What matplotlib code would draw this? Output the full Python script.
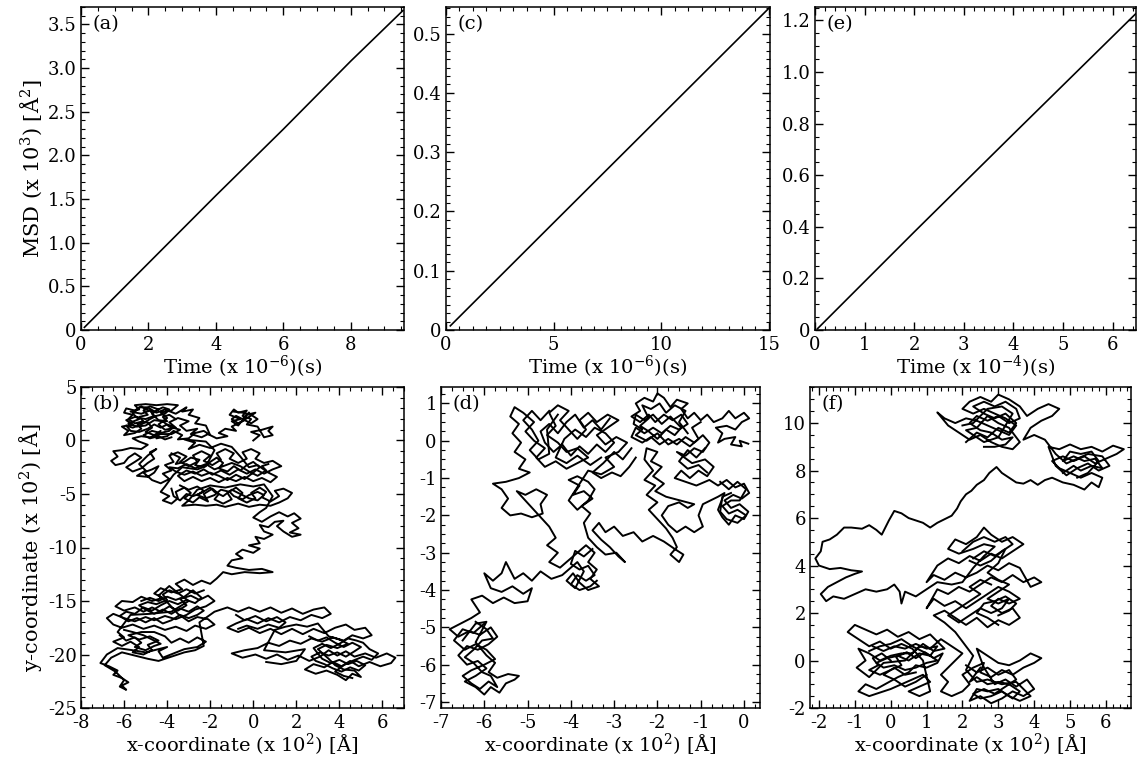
import matplotlib
matplotlib.use('Agg')
import matplotlib.pyplot as plt
from matplotlib.ticker import MultipleLocator, AutoMinorLocator, FuncFormatter

# MSD curves
t_a = [0.1, 4, 6, 8, 9.55]
msd_a = [0.03, 1.54, 2.30, 3.08, 3.66]
t_c = [0.2, 5, 10, 15.0]
msd_c = [0.007, 0.181, 0.362, 0.543]
t_e = [0.05, 2, 4, 6.46]
msd_e = [0.005, 0.38, 0.76, 1.225]

# trajectories, hand-traced waypoints (x, y) in units of 10^2 A
path_b = [
    (0.0, 0.0), (0.3, 0.5), (-0.1, 0.8), (0.4, 1.0), (0.9, 1.3), (0.7, 0.9), (0.9, 0.5), (0.5, 0.3),
    (0.2, 1.3), (-0.3, 1.5), (-0.1, 2.0), (-0.5, 2.3), (-0.3, 2.8), (-0.7, 2.6), (-0.9, 2.9),
    (-1.1, 2.4), (-0.6, 2.0), (-1.0, 1.8), (-0.7, 1.4), (-0.3, 2.4), (0.1, 2.6), (-0.2, 2.2),
    (-0.6, 1.7), (-1.0, 1.3), (-0.8, 0.9), (-1.3, 1.1), (-1.6, 0.7), (-1.2, 0.4), (-1.7, 0.2),
    (-2.1, 0.6),
    (-2.4, 0.3), (-2.9, 0.6), (-2.6, 1.1), (-3.1, 0.9), (-3.4, 1.4), (-3.0, 1.8), (-3.5, 2.1),
    (-3.9, 1.7), (-3.6, 1.2), (-4.1, 1.0), (-4.4, 1.5), (-4.0, 2.1), (-4.3, 2.6), (-3.8, 2.8),
    (-3.5, 3.3), (-4.0, 3.4), (-4.5, 3.3), (-5.0, 3.4), (-5.5, 3.3), (-5.3, 2.9), (-5.7, 2.7),
    (-5.2, 2.5), (-4.8, 2.8), (-4.6, 2.3), (-5.0, 2.0), (-5.5, 2.2), (-5.9, 1.9), (-5.6, 1.5),
    (-6.1, 1.3), (-5.8, 0.9), (-6.0, 0.5), (-5.5, 0.7), (-5.2, 1.1), (-5.4, 1.6), (-4.9, 1.7),
    (-4.7, 1.2), (-5.0, 0.8), (-4.6, 0.5), (-4.3, 0.9), (-4.5, 0.2), (-4.0, 0.4), (-3.7, 0.9),
    (-3.3, 0.5), (-3.5, 0.1), (-3.0, 0.2), (-2.7, 0.7), (-2.3, 0.9), (-2.0, 0.5), (-2.2, 1.4),
    (-2.7, 1.6), (-2.5, 2.1), (-3.0, 2.4), (-2.8, 2.9), (-3.3, 2.7), (-3.1, 3.1), (-3.6, 2.5),
    (-4.1, 2.9), (-4.5, 2.6), (-4.9, 3.1), (-5.3, 3.1), (-5.6, 2.5), (-5.3, 2.0), (-5.8, 1.6),
    (-5.4, 1.3), (-5.0, 1.4), (-4.6, 1.9), (-4.2, 1.8), (-3.9, 1.3), (-3.4, 1.0), (-3.8, 0.6),
    (-4.3, 0.6), (-4.8, 0.3), (-5.2, 0.4), (-5.6, 0.2), (-5.3, -0.1),
    (-4.9, -0.4), (-5.2, -0.8), (-5.7, -0.7), (-6.1, -0.9), (-6.5, -1.0), (-6.3, -1.5), (-6.6, -1.9),
    (-6.4, -2.3), (-6.0, -2.1), (-5.8, -1.6), (-5.5, -1.2), (-5.2, -1.6), (-5.5, -2.0), (-5.9, -2.5),
    (-5.6, -2.9), (-5.2, -2.6), (-4.9, -2.1), (-4.6, -1.7), (-4.8, -1.1), (-4.5, -0.8), (-4.9, -1.4),
    (-5.3, -2.2), (-5.0, -2.8), (-5.4, -3.3), (-4.9, -3.4), (-4.6, -3.0), (-4.4, -2.4), (-4.7, -2.7),
    (-5.1, -3.0), (-4.7, -3.7), (-4.3, -4.0),
    (-3.9, -3.6), (-4.2, -3.1), (-3.8, -2.8), (-4.1, -2.3), (-3.7, -2.0), (-3.9, -1.4), (-3.5, -1.1),
    (-3.1, -1.5), (-3.4, -2.0), (-3.0, -2.4), (-2.6, -2.0), (-2.8, -1.4), (-2.4, -1.0), (-2.0, -1.4),
    (-2.3, -1.9), (-1.9, -2.3), (-1.5, -1.8), (-1.7, -1.2), (-1.3, -0.8), (-0.9, -1.2), (-1.1, -1.7),
    (-0.7, -2.1), (-0.3, -1.7), (-0.5, -1.1), (-0.1, -0.8), (0.3, -1.2), (0.1, -1.7), (0.5, -2.1),
    (0.9, -1.9), (1.3, -2.4), (0.9, -2.7), (0.5, -3.1), (0.1, -2.7), (-0.3, -3.1), (-0.7, -2.7),
    (-1.1, -3.2), (-1.5, -2.8), (-1.9, -3.2), (-2.3, -2.7), (-2.7, -3.1), (-3.1, -2.8), (-3.5, -3.3),
    (-3.2, -3.8), (-2.8, -3.4), (-2.4, -3.8), (-2.0, -3.5), (-1.6, -3.9), (-1.2, -3.5), (-0.8, -3.8),
    (-0.4, -3.4), (0.0, -3.8), (0.4, -3.5), (0.8, -3.9), (1.1, -3.4), (0.7, -3.0), (0.2, -2.3),
    (-0.2, -2.5), (-0.6, -1.5), (-1.0, -0.6), (-1.5, -0.3), (-2.0, -0.7), (-2.5, -0.4), (-3.0, -0.8),
    (-2.7, -0.2), (-3.2, 0.1), (-2.2, -0.1), (-1.8, -0.9), (-2.2, -2.4), (-2.6, -2.7), (-3.3, -2.5),
    (-3.7, -3.2),
    (-4.1, -4.3), (-4.3, -4.8), (-3.9, -5.2), (-4.2, -5.6), (-3.8, -5.9), (-3.5, -5.4), (-3.6, -4.8),
    (-3.2, -4.4), (-2.9, -4.9), (-3.2, -5.4), (-2.8, -5.8), (-2.5, -5.3), (-2.1, -5.7), (-2.3, -5.0),
    (-1.9, -4.5), (-1.6, -5.0), (-1.8, -5.5), (-1.4, -5.9), (-1.0, -5.5), (-1.2, -4.9), (-0.8, -4.4),
    (-0.5, -4.9), (-0.7, -5.4), (-0.3, -5.8), (0.1, -5.4), (-0.1, -4.9), (0.3, -4.4), (0.6, -4.8),
    (0.4, -5.3), (0.8, -5.7), (1.2, -5.2), (1.0, -4.7), (1.4, -4.5), (1.8, -4.9), (1.6, -5.4),
    (1.2, -5.8), (0.8, -6.1), (0.3, -6.0), (-0.2, -6.2), (-0.7, -5.9), (-1.3, -6.2), (-1.7, -6.0),
    (-2.2, -6.1), (-2.7, -6.0), (-3.3, -6.1), (-3.0, -5.6), (-2.6, -4.6), (-2.0, -4.2), (-1.3, -4.4),
    (-0.6, -4.1), (0.0, -4.3), (0.5, -4.1), (0.9, -5.2), (0.6, -6.3),
    (0.3, -6.7), (0.0, -7.2), (0.4, -7.6), (0.8, -7.1), (1.2, -6.7), (1.6, -7.1), (1.9, -6.8),
    (2.2, -7.3), (1.8, -7.7), (2.1, -8.2), (1.7, -8.6), (2.2, -8.8), (1.8, -9.0), (1.4, -8.5),
    (1.1, -8.0), (1.4, -7.5), (1.0, -7.6), (0.7, -8.1), (0.3, -7.9), (0.5, -8.5), (0.9, -8.8),
    (0.5, -9.2), (0.1, -9.0), (0.3, -9.6),
    (-0.2, -9.8), (0.3, -10.1), (0.0, -10.5), (-0.5, -10.2), (-0.8, -10.6), (-0.5, -11.0),
    (-1.0, -11.2), (-1.2, -11.7), (-0.8, -11.9), (-0.2, -12.1), (0.4, -12.0), (0.9, -12.3),
    (0.3, -12.4), (-0.4, -12.3), (-1.0, -12.5), (-1.4, -12.3), (-1.7, -12.9), (-2.0, -13.4),
    (-2.4, -13.1), (-2.8, -13.5), (-3.2, -13.0), (-3.6, -13.4), (-3.3, -13.9), (-3.8, -14.2),
    (-4.3, -13.8), (-4.6, -14.3), (-4.2, -14.7), (-4.7, -15.0), (-5.2, -14.6), (-5.6, -15.1),
    (-6.1, -15.0), (-6.4, -15.5), (-6.0, -15.9), (-5.5, -15.6), (-5.1, -16.0), (-4.7, -15.6),
    (-4.3, -16.0), (-3.9, -15.5), (-3.5, -15.9), (-3.1, -15.4), (-3.4, -14.8), (-2.9, -14.5),
    (-2.5, -14.9), (-2.1, -14.5), (-1.8, -15.0), (-2.2, -15.5), (-2.7, -15.8), (-3.1, -16.3),
    (-3.6, -16.7), (-4.1, -16.4), (-4.6, -16.8), (-5.0, -16.5), (-5.5, -16.9), (-6.0, -16.6),
    (-6.5, -16.2), (-6.8, -16.6), (-6.5, -17.2), (-6.1, -17.5), (-5.6, -17.2), (-5.1, -17.6),
    (-4.6, -17.3), (-4.1, -17.7), (-3.6, -17.4), (-3.1, -17.8), (-2.7, -17.3), (-2.2, -17.6),
    (-1.8, -17.2), (-2.1, -16.7), (-2.6, -16.5), (-3.0, -16.9), (-3.5, -16.2), (-4.0, -15.1),
    (-4.4, -14.5), (-3.9, -13.6), (-3.4, -14.4), (-3.0, -15.0), (-3.8, -16.0), (-4.8, -16.2),
    (-5.7, -16.3),
    (-6.3, -17.9), (-6.0, -18.4), (-6.5, -18.8), (-6.1, -19.2), (-5.7, -18.8), (-5.3, -19.3),
    (-5.6, -19.8), (-5.1, -20.0), (-4.7, -19.6), (-4.9, -19.1), (-4.4, -18.7), (-4.8, -18.3),
    (-5.3, -18.6), (-5.8, -18.2), (-5.2, -17.9), (-4.6, -17.9), (-4.1, -18.3), (-3.8, -18.9),
    (-3.4, -18.5), (-3.0, -18.9), (-2.6, -18.4), (-2.2, -18.8), (-2.6, -19.3), (-3.2, -19.5),
    (-3.7, -19.9), (-4.2, -20.3), (-4.4, -19.7), (-4.0, -19.3),
    (-5.0, -19.8), (-5.6, -19.6), (-6.3, -19.4), (-6.8, -20.0), (-7.1, -20.8), (-6.7, -21.1),
    (-6.3, -21.5), (-6.5, -21.9), (-6.1, -22.2), (-5.8, -22.6), (-6.1, -22.9), (-5.9, -23.3),
    (-6.2, -23.0), (-6.0, -22.4), (-6.4, -21.6), (-6.9, -21.0), (-6.6, -20.3), (-6.1, -19.8),
    (-5.5, -20.1), (-4.9, -20.4), (-4.4, -20.6), (-3.8, -20.2), (-3.2, -19.8), (-2.7, -19.6),
    (-2.3, -19.2), (-2.5, -17.0), (-1.8, -16.0), (-1.2, -15.6),
    (-0.7, -16.0), (-0.2, -15.6), (0.3, -16.0), (0.8, -15.6), (1.3, -16.1), (1.8, -15.7),
    (2.3, -16.2), (2.8, -15.8), (3.3, -15.6), (3.6, -16.2), (3.2, -16.6), (2.7, -16.3),
    (2.2, -16.8), (1.7, -16.5), (1.2, -17.0), (0.7, -16.6), (0.2, -17.1), (-0.3, -16.7),
    (-0.8, -17.1), (-1.2, -17.5), (-0.7, -17.9), (-0.2, -17.5), (0.3, -18.0), (0.8, -17.6),
    (1.3, -18.1), (1.8, -17.6), (2.3, -18.1), (2.8, -17.6), (3.3, -18.0), (3.8, -17.5),
    (4.3, -17.2), (4.7, -17.7), (5.2, -17.5), (5.5, -18.2), (5.1, -18.5), (4.6, -18.2),
    (4.2, -18.7), (3.7, -18.4), (3.2, -18.8), (2.7, -18.5), (2.2, -19.0), (1.7, -18.7),
    (1.2, -19.2), (0.7, -18.9), (0.2, -19.4), (-0.4, -19.6), (-1.0, -19.9), (-0.5, -20.3),
    (0.1, -20.0), (0.6, -20.4), (1.1, -20.0), (1.6, -20.5), (2.1, -20.1), (2.6, -20.6),
    (3.1, -20.2), (3.5, -19.6), (3.9, -20.1), (4.3, -19.7), (4.7, -20.2), (5.2, -19.9),
    (5.7, -20.3), (6.2, -19.9), (6.6, -20.3), (6.4, -20.8), (5.9, -21.1), (5.4, -20.7),
    (4.9, -21.1), (4.5, -20.6), (4.1, -21.1), (3.7, -20.7), (3.3, -21.2), (2.8, -20.9),
    (2.4, -21.4), (2.9, -21.8), (3.4, -21.5), (3.9, -21.9), (4.3, -22.4), (4.6, -21.8),
    (5.0, -22.1), (4.7, -21.5), (4.2, -21.4), (3.8, -21.0), (3.5, -20.4), (3.0, -19.5),
    (3.4, -19.1), (3.9, -19.4), (4.4, -19.0), (4.0, -18.6), (3.5, -18.3), (3.0, -17.1),
    (2.5, -17.4), (2.0, -17.2), (1.5, -17.4), (1.0, -17.7), (0.5, -19.6), (1.5, -19.8),
    (2.4, -19.5), (2.0, -20.6), (1.3, -20.9), (0.6, -20.7),
]

# extra tangles inside the densest parts of (b)
extras_b = [
    [(-3.6, 2.0), (-3.9, 2.4), (-4.2, 2.2), (-4.0, 1.8), (-4.4, 1.9), (-4.7, 2.5), (-4.4, 2.9),
     (-4.8, 3.2), (-5.1, 2.8), (-4.9, 2.4), (-5.3, 2.2), (-5.1, 1.8), (-5.5, 1.6), (-5.8, 2.0),
     (-5.6, 2.4), (-6.0, 2.6), (-5.9, 3.0), (-5.5, 2.8), (-5.2, 3.2), (-5.0, 2.9), (-4.6, 2.7),
     (-4.2, 3.1), (-3.9, 2.9), (-4.1, 2.5), (-4.5, 2.3), (-4.8, 2.0), (-5.2, 1.5), (-5.6, 1.2),
     (-5.9, 1.4), (-5.7, 0.9), (-5.3, 0.8), (-4.9, 1.1), (-4.6, 1.5), (-4.3, 1.2), (-4.0, 1.5),
     (-3.7, 1.3), (-3.9, 0.9), (-4.3, 0.7), (-4.7, 0.9), (-5.1, 0.5), (-4.8, 0.2), (-4.4, 0.4),
     (-4.1, 0.1), (-3.8, 0.3)],
    [(-3.8, -1.2), (-3.4, -1.6), (-3.6, -2.2), (-3.2, -2.0), (-2.9, -1.6), (-2.5, -1.8),
     (-2.7, -2.3), (-2.3, -2.5), (-2.0, -2.0), (-1.7, -1.6), (-1.4, -2.1), (-1.6, -2.6),
     (-1.2, -2.9), (-0.9, -2.4), (-0.6, -2.8), (-0.3, -2.3), (0.0, -2.0), (0.3, -2.5), (0.0, -3.0),
     (-0.4, -3.6), (-0.8, -3.2), (-1.2, -3.7), (-1.6, -3.3), (-2.0, -3.0), (-2.4, -3.3),
     (-2.8, -2.9), (-3.2, -3.2), (-3.6, -2.9), (-3.9, -2.5), (-3.5, -2.6), (-3.1, -2.2),
     (-2.7, -2.6), (-2.2, -2.2), (-1.8, -2.7), (-1.4, -2.4), (-1.0, -2.1), (-0.6, -2.4),
     (-0.2, -2.9), (0.2, -3.3), (0.6, -2.8), (0.4, -2.4), (0.7, -2.2)],
    [(-3.4, -4.2), (-3.0, -4.6), (-2.6, -4.3), (-2.3, -4.7), (-2.6, -5.1), (-2.2, -5.4),
     (-1.8, -5.1), (-1.5, -4.6), (-1.1, -4.8), (-0.9, -5.2), (-0.5, -5.5), (-0.2, -5.1),
     (0.2, -4.8), (0.5, -5.1), (0.2, -5.6), (-0.2, -5.4), (-0.6, -5.0), (-1.0, -4.6), (-1.4, -5.2),
     (-1.8, -4.8), (-2.0, -4.4), (-2.4, -4.9), (-2.8, -5.2), (-3.1, -5.0), (-3.4, -5.6),
     (-3.7, -5.2), (-3.8, -4.5)],
    [(-2.3, -14.0), (-2.7, -14.3), (-3.1, -13.9), (-3.5, -14.3), (-3.9, -14.0), (-4.2, -14.4),
     (-4.0, -14.9), (-4.5, -15.3), (-4.9, -15.1), (-5.3, -15.4), (-5.0, -15.8), (-4.6, -16.2),
     (-4.2, -15.8), (-3.8, -16.2), (-3.4, -15.7), (-3.0, -16.0), (-2.6, -15.5), (-2.3, -15.9),
     (-2.6, -16.3), (-3.0, -16.6), (-3.4, -16.3), (-3.8, -16.8), (-4.2, -17.1), (-4.6, -16.6),
     (-5.0, -17.0), (-5.4, -16.6), (-5.8, -16.9), (-6.2, -16.4), (-5.9, -16.0), (-5.5, -16.2),
     (-5.1, -15.6), (-4.7, -15.9), (-4.3, -15.4), (-3.9, -15.0), (-3.5, -15.3), (-3.1, -14.9),
     (-2.7, -15.2), (-2.4, -14.7), (-2.8, -14.0), (-3.2, -14.6), (-3.6, -14.9), (-4.0, -14.6),
     (-4.4, -15.0), (-4.8, -14.7), (-5.2, -15.0)],
    [(2.6, -18.3), (3.0, -18.7), (3.4, -18.4), (3.8, -18.9), (4.2, -19.3), (4.6, -18.9),
     (5.0, -19.3), (4.7, -19.7), (4.3, -20.2), (3.9, -19.8), (3.5, -20.1), (3.1, -19.8),
     (2.7, -20.2), (2.9, -20.6), (3.3, -20.9), (3.7, -21.3), (4.1, -21.6), (4.5, -21.2),
     (4.9, -21.5), (5.2, -21.0), (4.8, -20.6), (4.4, -20.9), (4.0, -20.5), (3.6, -20.8),
     (3.2, -20.4), (2.8, -19.4), (3.2, -19.0), (3.6, -19.4), (4.0, -19.0), (4.4, -18.5),
     (4.8, -18.7), (5.1, -18.9), (5.4, -19.5), (5.8, -19.9), (5.5, -20.5), (5.1, -20.2),
     (4.6, -20.6), (4.2, -21.0), (3.8, -21.6), (4.2, -22.0), (4.6, -22.2)],
    [(-0.2, 2.6), (-0.5, 2.0), (-0.8, 2.3), (-1.0, 2.0), (-0.7, 1.6), (-0.4, 1.9), (-0.1, 1.6),
     (0.2, 2.0), (-0.1, 2.4), (-0.5, 2.6), (-0.9, 2.7)],
    [(-6.2, -18.2), (-5.9, -18.7), (-5.5, -18.4), (-5.2, -18.9), (-5.5, -19.3), (-5.0, -19.6),
     (-4.6, -19.2), (-4.3, -19.0), (-4.7, -18.6), (-5.1, -18.2), (-5.6, -17.9), (-6.0, -17.7)],
    [(-0.8, -16.3), (-0.4, -16.8), (0.1, -16.4), (0.6, -16.9), (1.1, -16.5), (1.5, -17.0),
     (1.2, -17.5), (0.7, -17.2), (0.2, -17.6), (-0.3, -17.3), (-0.7, -17.6)],
]

path_d = [
    (0.1, -0.08), (-0.1, 0.0), (-0.05, -0.15), (-0.3, -0.1), (-0.2, 0.1), (-0.45, 0.05),
    (-0.6, -0.05), (-0.5, 0.2), (-0.65, 0.35), (-0.4, 0.4), (-0.2, 0.3), (-0.05, 0.5), (0.12, 0.6),
    (0.0, 0.75), (-0.2, 0.6), (-0.35, 0.8), (-0.5, 0.6), (-0.7, 0.5), (-0.85, 0.7), (-1.0, 0.55),
    (-1.15, 0.75), (-1.3, 0.6), (-1.45, 0.85), (-1.3, 1.0), (-1.55, 1.1), (-1.7, 0.9), (-1.85, 1.15),
    (-2.0, 1.27), (-2.1, 1.05), (-2.3, 1.15), (-2.5, 1.0), (-2.4, 0.8), (-2.6, 0.65), (-2.4, 0.5),
    (-2.2, 0.7), (-2.05, 0.5), (-1.85, 0.7), (-1.65, 0.55), (-1.45, 0.7), (-1.3, 0.45), (-1.5, 0.3),
    (-1.7, 0.4), (-1.9, 0.2), (-2.1, 0.35), (-2.3, 0.2), (-2.5, 0.35), (-2.6, 0.1), (-2.35, -0.05),
    (-2.15, 0.1), (-1.95, -0.1), (-1.75, 0.05), (-1.55, -0.1), (-1.35, 0.1), (-1.15, -0.05),
    (-0.95, 0.15), (-0.8, -0.05), (-0.95, -0.3), (-1.15, -0.2), (-1.35, -0.4), (-1.55, -0.3),
    (-1.2, -0.6), (-0.9, -0.5), (-0.7, -0.7), (-0.85, -0.95), (-1.05, -0.8), (-1.25, -1.0),
    (-1.45, -0.8), (-1.6, -1.0),
    (-1.1, -1.2), (-0.8, -1.05), (-0.6, -1.2), (-0.4, -1.05), (-0.2, -1.25), (0.0, -1.15),
    (0.12, -1.4), (-0.05, -1.55), (-0.25, -1.45), (-0.45, -1.6), (-0.3, -1.8), (-0.1, -1.7),
    (0.1, -1.9), (0.0, -2.1), (-0.2, -2.0), (-0.35, -2.25), (-0.5, -2.05), (-0.6, -1.85),
    (-0.45, -1.4), (-0.6, -1.5),
    (-0.95, -1.7), (-1.05, -2.0), (-0.95, -2.3), (-1.15, -2.45), (-1.35, -2.3), (-1.55, -2.45),
    (-1.75, -2.25), (-1.9, -2.0), (-1.75, -1.75), (-1.5, -1.65), (-1.3, -1.8), (-1.15, -1.7),
    (-1.8, -1.5), (-2.05, -1.35), (-1.85, -1.15), (-2.1, -0.95), (-1.9, -0.7), (-2.15, -0.55),
    (-2.0, -0.3), (-2.25, -0.2), (-2.3, -0.5), (-2.1, -0.8), (-2.3, -1.05), (-2.05, -1.2),
    (-2.25, -1.45), (-2.0, -1.65), (-2.2, -1.85),
    (-2.0, -2.1), (-1.8, -2.35), (-1.65, -2.6), (-1.55, -2.85), (-1.7, -3.05), (-1.5, -3.25),
    (-1.4, -3.05), (-1.6, -2.9), (-1.85, -2.7), (-2.1, -2.55), (-2.35, -2.7), (-2.55, -2.45),
    (-2.8, -2.55), (-3.0, -2.3), (-3.2, -2.45), (-3.35, -2.2), (-3.5, -2.4), (-3.3, -2.65),
    (-3.1, -2.85), (-2.9, -3.1), (-2.75, -3.25), (-2.95, -3.0), (-3.2, -3.05), (-3.4, -2.85),
    (-3.6, -2.6),
    (-3.7, -2.2), (-3.55, -1.95), (-3.75, -1.75), (-3.5, -1.55), (-3.7, -1.35), (-3.95, -1.45),
    (-3.8, -1.2), (-4.05, -1.05), (-3.85, -0.95), (-3.6, -1.1), (-3.45, -1.3), (-3.6, -1.6),
    (-3.85, -1.85), (-4.05, -1.6),
    (-3.6, -0.8), (-3.3, -0.9), (-3.0, -0.7), (-3.2, -0.45), (-2.9, -0.3), (-2.7, -0.05),
    (-2.95, 0.1), (-3.2, -0.1), (-3.4, 0.15), (-3.15, 0.35), (-2.9, 0.55), (-3.15, 0.7),
    (-3.4, 0.5), (-3.6, 0.75), (-3.8, 0.55), (-3.65, 0.3), (-3.85, 0.05), (-4.05, 0.3),
    (-4.25, 0.55), (-4.05, 0.8), (-4.3, 0.95), (-4.5, 0.75), (-4.35, 0.4), (-4.55, 0.15),
    (-4.3, -0.05), (-4.1, -0.3), (-3.85, -0.2), (-3.6, -0.45), (-3.85, -0.6), (-4.1, -0.75),
    (-4.35, -0.55), (-4.6, -0.7), (-4.8, -0.45), (-4.6, -0.2), (-4.85, 0.0),
    (-5.05, 0.25), (-4.85, 0.5), (-5.1, 0.75), (-5.3, 0.9), (-5.4, 0.65), (-5.2, 0.45),
    (-5.35, 0.2), (-5.15, -0.05), (-5.3, -0.3), (-5.05, -0.5), (-5.2, -0.75), (-4.95, -0.85),
    (-5.2, -1.0), (-5.5, -1.1), (-5.8, -1.15), (-5.6, -1.3), (-5.45, -1.55), (-5.6, -1.8),
    (-5.4, -2.0), (-5.15, -1.95), (-4.9, -2.05), (-4.65, -1.95), (-4.7, -1.7), (-4.55, -1.45),
    (-4.8, -1.3), (-5.05, -1.45), (-5.25, -1.35),
    (-4.5, -2.3), (-4.35, -2.6), (-4.55, -2.8), (-4.3, -3.0), (-4.5, -3.25), (-4.25, -3.4),
    (-4.05, -3.2), (-3.85, -3.0), (-3.65, -2.8), (-3.45, -3.0), (-3.6, -3.25), (-3.4, -3.45),
    (-3.55, -3.7), (-3.35, -3.9), (-3.6, -4.0), (-3.8, -3.8), (-3.95, -3.55), (-4.1, -3.75),
    (-3.9, -3.95), (-3.7, -3.5), (-3.85, -3.25),
    (-4.2, -3.6), (-4.45, -3.7), (-4.7, -3.5), (-4.9, -3.75), (-5.1, -3.55), (-5.3, -3.7),
    (-5.5, -3.25), (-5.6, -3.55), (-5.8, -3.75), (-6.0, -3.55), (-5.85, -3.95), (-5.6, -4.05),
    (-5.35, -3.9), (-5.1, -4.1), (-4.9, -3.95), (-5.0, -4.3), (-5.3, -4.35), (-5.55, -4.2),
    (-5.8, -4.35), (-6.05, -4.15), (-6.3, -4.25), (-6.1, -4.6),
    (-6.3, -4.75), (-6.55, -4.9), (-6.8, -5.05), (-6.6, -5.25), (-6.35, -5.1), (-6.1, -5.2),
    (-5.85, -5.0), (-5.7, -5.25), (-5.9, -5.45), (-6.15, -5.6), (-6.4, -5.5), (-6.6, -5.75),
    (-6.4, -6.0), (-6.15, -5.9), (-5.95, -6.1), (-6.2, -6.3), (-6.45, -6.45), (-6.2, -6.6),
    (-6.0, -6.8), (-5.85, -6.6), (-5.65, -6.75), (-5.5, -6.5), (-5.3, -6.4), (-5.2, -6.3),
    (-5.45, -6.25), (-5.7, -6.35), (-5.9, -6.2), (-5.75, -5.95), (-5.95, -5.75), (-6.2, -5.4),
    (-5.95, -4.85), (-6.2, -4.9), (-6.5, -5.35),
]

extras_d = [
    [(-1.3, 0.2), (-1.5, 0.5), (-1.35, 0.8), (-1.6, 0.95), (-1.8, 0.75), (-1.95, 1.0),
     (-2.15, 0.85), (-2.35, 0.95), (-2.2, 0.6), (-2.4, 0.4), (-2.2, 0.25), (-2.0, 0.05),
     (-1.8, 0.3), (-1.6, 0.15), (-1.45, 0.35), (-1.7, 0.65), (-1.9, 0.45), (-2.1, 0.7),
     (-2.3, 0.55), (-2.5, 0.7), (-2.55, 0.45), (-2.35, 0.3), (-2.5, 0.15), (-2.25, 0.0),
     (-2.0, 0.2), (-1.75, -0.1), (-1.5, 0.05), (-1.25, -0.15), (-1.05, 0.05), (-1.2, 0.35),
     (-1.0, 0.5)],
    [(-3.1, 0.6), (-3.3, 0.3), (-3.5, 0.55), (-3.7, 0.35), (-3.9, 0.7), (-4.1, 0.5), (-4.3, 0.2),
     (-4.5, 0.45), (-4.7, 0.25), (-4.6, -0.05), (-4.4, -0.3), (-4.2, -0.1), (-4.0, -0.4),
     (-3.8, -0.15), (-3.6, -0.35), (-3.4, -0.1), (-3.2, -0.3), (-3.0, -0.05), (-3.2, 0.2),
     (-3.45, 0.35), (-3.65, 0.1), (-3.9, 0.3), (-4.15, 0.05), (-4.35, -0.45), (-4.1, -0.6),
     (-3.85, -0.4), (-3.55, -0.65), (-3.3, -0.45)],
    [(-6.0, -4.9), (-6.25, -5.15), (-6.5, -5.05), (-6.7, -5.35), (-6.45, -5.6), (-6.2, -5.45),
     (-5.95, -5.6), (-5.75, -5.85), (-6.0, -6.0), (-6.3, -6.15), (-6.5, -6.3), (-6.3, -6.5),
     (-6.1, -6.65), (-5.9, -6.45), (-5.7, -6.6), (-5.85, -6.3), (-6.05, -6.2), (-6.25, -5.95),
     (-6.45, -5.8), (-6.25, -5.6), (-6.05, -5.35), (-5.8, -5.3), (-5.95, -5.05), (-6.2, -4.85)],
    [(-3.5, -2.9), (-3.7, -3.1), (-3.9, -2.95), (-4.0, -3.3), (-3.8, -3.45), (-3.6, -3.35),
     (-3.45, -3.6), (-3.65, -3.75), (-3.85, -3.6), (-4.0, -3.85), (-3.8, -4.0), (-3.55, -3.9),
     (-3.4, -3.75)],
    [(-0.55, -1.1), (-0.35, -1.3), (-0.15, -1.1), (0.05, -1.3), (-0.1, -1.6), (-0.3, -1.6),
     (-0.5, -1.75), (-0.35, -1.95), (-0.15, -1.85), (0.05, -2.0), (-0.15, -2.2), (-0.4, -2.1),
     (-0.55, -1.9), (-0.5, -1.5), (-0.3, -1.4)],
    [(-2.6, -0.2), (-2.8, -0.5), (-3.0, -0.3), (-3.25, -0.6), (-3.5, -0.85), (-3.3, -1.0),
     (-3.05, -0.85), (-2.85, -0.95), (-2.65, -0.7), (-2.5, -0.45)],
    [(-4.5, 0.8), (-4.7, 0.55), (-4.9, 0.8), (-5.1, 0.55), (-4.9, 0.3), (-4.75, 0.0),
     (-4.95, -0.25), (-4.75, -0.5), (-4.5, -0.35), (-4.55, 0.3), (-4.3, 0.7)],
    [(-0.9, -0.2), (-1.1, -0.45), (-1.3, -0.25), (-1.5, -0.55), (-1.3, -0.75), (-1.05, -0.65),
     (-0.85, -0.85)],
]

path_f = [
    (0.0, 0.0), (-0.25, 0.3), (-0.5, 0.1), (-0.35, -0.2), (-0.6, -0.4), (-0.3, -0.6), (0.0, -0.4),
    (0.3, -0.2), (0.15, 0.15), (0.45, 0.35), (0.7, 0.1), (0.95, 0.35), (1.2, 0.1), (1.45, 0.3),
    (1.3, -0.1), (1.0, -0.3), (0.7, -0.2), (0.5, -0.5), (0.2, -0.7), (-0.1, -0.95), (-0.4, -1.2),
    (-0.7, -1.0), (-0.9, -1.3), (-0.6, -1.5), (-0.3, -1.35), (0.0, -1.2), (0.3, -1.0), (0.6, -0.8),
    (0.9, -0.6), (1.1, -0.9), (0.8, -1.1), (0.5, -1.3), (0.8, -1.5), (1.1, -1.3), (0.9, 0.0),
    (0.6, 0.5), (0.3, 0.7), (0.0, 0.5), (-0.3, 0.8), (-0.6, 0.6), (-0.9, 0.9), (-1.2, 1.2),
    (-1.0, 1.5), (-0.7, 1.3), (-0.4, 1.1), (-0.1, 1.3), (0.2, 1.0), (0.5, 1.2), (0.8, 0.9),
    (1.1, 1.1), (1.3, 0.8), (1.5, 0.5), (1.2, 0.4), (0.9, 0.7), (0.6, 0.3), (0.3, 0.3), (0.0, 0.2),
    (-0.3, 0.0), (-0.6, 0.3), (-0.9, 0.5), (-0.7, 0.0), (-0.95, -0.3), (-0.6, -0.7), (-0.2, -0.1),
    (0.4, 0.0), (0.8, 0.6), (1.1, 0.5), (1.4, 0.9), (1.7, 0.6), (2.0, 0.3), (1.8, 0.0),
    (1.6, -0.3), (1.4, -0.6), (1.6, -0.9), (1.4, -1.3), (1.7, -1.5), (2.0, -1.3), (2.2, -1.0),
    (2.0, -0.6), (2.3, -0.3), (2.6, -0.1), (2.5, -0.5), (2.8, -0.7), (3.1, -0.4), (3.4, -0.6),
    (3.7, -0.3), (4.0, -0.1), (4.2, 0.1), (3.9, 0.3), (3.6, 0.0), (3.3, -0.2), (3.0, -0.1),
    (2.7, 0.2), (2.4, 0.5), (2.6, -0.3), (2.9, -1.0), (3.2, -0.8), (3.5, -1.1), (3.8, -0.8),
    (4.0, -1.2), (3.7, -1.5), (3.4, -1.3), (3.1, -1.6), (2.8, -1.8), (2.5, -1.5), (2.2, -1.7),
    (2.4, -1.2), (2.7, -1.3), (3.0, -1.2), (3.3, -1.5), (3.6, -1.7), (3.9, -1.5), (3.5, -0.9),
    (3.1, -1.0), (2.7, -0.8), (2.4, -0.9), (2.1, -0.4), (2.3, 0.2), (2.0, 0.8),
    (1.8, 1.2), (1.5, 1.6), (1.2, 1.9), (1.5, 2.1), (1.8, 1.8), (2.1, 1.5), (2.4, 1.8), (2.7, 1.4),
    (3.0, 1.7), (3.3, 1.5), (3.6, 1.8), (3.4, 2.2), (3.1, 2.0), (2.8, 2.3), (3.0, 2.6), (3.3, 2.4),
    (3.6, 2.6), (3.3, 2.9), (3.0, 3.1), (2.7, 2.8), (2.4, 2.5), (2.1, 2.2), (1.8, 2.5), (1.5, 2.3),
    (1.2, 2.6), (1.0, 2.2), (1.3, 3.0), (1.6, 2.8), (1.9, 3.1), (2.2, 2.9), (2.5, 3.2), (2.8, 3.5),
    (3.1, 3.3), (3.4, 3.6), (3.7, 3.3), (4.0, 3.5), (4.2, 3.3), (3.9, 3.1), (3.6, 3.9), (3.3, 4.1),
    (3.0, 3.8), (2.7, 4.0), (2.4, 3.7), (2.1, 3.5), (1.8, 3.7), (1.5, 3.4), (1.2, 3.6), (1.0, 3.3),
    (1.3, 4.0), (1.6, 4.3), (1.9, 4.1), (2.2, 4.4), (2.5, 4.2), (2.8, 4.5), (3.1, 4.3), (3.4, 4.6),
    (3.7, 4.9), (3.4, 5.2), (3.1, 5.0), (2.8, 5.3), (2.6, 5.6), (2.4, 5.2), (2.1, 4.9), (1.8, 5.1),
    (1.6, 4.7), (1.9, 4.5), (2.3, 4.7), (2.6, 4.9), (2.9, 4.8), (2.6, 4.4), (2.3, 3.9), (2.0, 3.3),
    (1.7, 3.2), (1.3, 3.3),
    (0.9, 2.9), (0.7, 2.7), (0.4, 2.9), (0.3, 2.4), (0.25, 2.9), (0.1, 3.2), (-0.1, 3.0),
    (-0.4, 2.9), (-0.7, 3.0), (-1.0, 2.8), (-1.3, 2.6), (-1.6, 2.7), (-1.8, 2.5), (-1.95, 2.8),
    (-1.75, 3.1), (-1.5, 3.3), (-1.25, 3.5), (-1.0, 3.65), (-0.8, 3.75), (-1.1, 3.8), (-1.4, 3.9),
    (-1.7, 3.85), (-2.0, 4.0), (-2.1, 4.3), (-1.95, 4.6), (-1.9, 5.0), (-1.7, 5.1), (-1.5, 5.3),
    (-1.3, 5.6), (-1.1, 5.6), (-0.8, 5.55), (-0.6, 5.7), (-0.4, 5.5), (-0.25, 5.3), (-0.15, 5.6),
    (-0.05, 5.9), (0.1, 6.3), (0.3, 6.2), (0.5, 6.0), (0.7, 5.9), (0.9, 5.8), (1.1, 5.6),
    (1.3, 5.8), (1.5, 5.95), (1.7, 6.1), (1.85, 6.4),
    (1.95, 6.7), (2.1, 7.0), (2.25, 7.15), (2.4, 7.4), (2.6, 7.6), (2.75, 7.9), (2.95, 8.15),
    (3.1, 7.9), (3.3, 7.7), (3.5, 7.5), (3.7, 7.45), (3.9, 7.6), (4.1, 7.4), (4.3, 7.6),
    (4.5, 7.7), (4.8, 7.5), (5.1, 7.4), (5.4, 7.2), (5.6, 7.5), (5.8, 7.3), (5.9, 7.7),
    (5.6, 7.9), (5.3, 7.7), (5.0, 7.9), (4.7, 8.1), (4.5, 8.4), (4.8, 8.6), (5.1, 8.4), (5.4, 8.6),
    (5.7, 8.3), (6.0, 8.5), (6.3, 8.7), (6.5, 8.9), (6.2, 9.05), (5.9, 8.8), (5.6, 9.0), (5.3, 8.9),
    (5.0, 9.1), (4.7, 8.9), (4.4, 9.0), (4.6, 8.2), (4.9, 7.8), (5.2, 8.1), (5.5, 8.3), (5.8, 8.0),
    (6.1, 8.2), (5.9, 8.6), (5.5, 8.7), (5.2, 8.5), (4.9, 8.3), (4.6, 8.7),
    (4.3, 9.3), (4.0, 9.5), (3.7, 9.3), (3.9, 9.8), (4.2, 10.1), (4.5, 10.3), (4.7, 10.6),
    (4.4, 10.8), (4.1, 10.6), (3.8, 10.3), (3.6, 10.7), (3.3, 11.0), (3.0, 11.2), (2.8, 10.9),
    (2.5, 11.1), (2.2, 10.9), (2.0, 10.6), (2.3, 10.4), (2.6, 10.6), (2.9, 10.4), (3.2, 10.2),
    (3.5, 9.9), (3.3, 9.5), (3.0, 9.7), (2.7, 9.9), (2.4, 10.1), (2.1, 10.2), (1.8, 10.0),
    (1.5, 10.2), (1.3, 10.45), (1.6, 9.9), (1.9, 9.6), (2.2, 9.3), (2.5, 9.5), (2.8, 9.2),
    (3.1, 9.0), (3.4, 8.9), (3.6, 9.2), (3.3, 9.8), (3.0, 10.0), (2.7, 10.3), (2.4, 9.8),
    (2.1, 9.7), (2.6, 9.2), (3.0, 9.4), (3.4, 10.4), (3.1, 10.7), (2.7, 10.6), (2.3, 10.0),
    (2.0, 9.9),
]

extras_f = [
    [(2.1, 9.2), (2.4, 9.6), (2.7, 9.4), (3.0, 9.8), (3.3, 9.6), (3.5, 10.0), (3.2, 10.4),
     (2.9, 10.2), (2.6, 10.4), (2.3, 10.7), (2.6, 10.9), (2.9, 10.7), (3.2, 10.9), (3.5, 10.6),
     (3.6, 10.2), (3.3, 10.0), (3.0, 10.3), (2.7, 10.1), (2.4, 10.3), (2.2, 10.0), (2.5, 9.7),
     (2.8, 9.6), (3.1, 9.3), (3.4, 9.4), (3.2, 9.1), (2.9, 9.0), (2.6, 9.0)],
    [(4.8, 7.9), (5.1, 8.2), (5.3, 8.0), (5.6, 8.2), (5.9, 8.1), (5.7, 8.5), (5.4, 8.4),
     (5.1, 8.6), (4.8, 8.4), (5.0, 8.8), (5.3, 8.7), (5.6, 8.8), (5.8, 8.4), (5.5, 7.9),
     (5.2, 7.7)],
    [(-0.5, 0.6), (-0.2, 0.4), (0.1, 0.6), (0.4, 0.5), (0.7, 0.7), (1.0, 0.5), (1.3, 0.6),
     (1.1, 0.2), (0.8, 0.3), (0.5, 0.0), (0.2, 0.2), (-0.1, 0.1), (-0.4, -0.1), (-0.2, -0.3),
     (0.1, -0.2), (0.4, -0.4), (0.7, -0.3), (1.0, -0.1), (1.3, 0.0), (1.0, 0.3), (0.6, 0.6),
     (0.3, 0.9), (0.0, 0.7), (-0.3, 0.6), (-0.6, 0.4)],
    [(2.1, -0.2), (2.4, -0.5), (2.7, -0.3), (3.0, -0.6), (3.3, -0.4), (3.5, -0.8), (3.2, -1.1),
     (2.9, -1.4), (2.6, -1.2), (2.3, -1.4), (2.5, -1.6), (2.8, -1.5), (3.1, -1.3), (3.4, -1.6),
     (3.6, -1.3), (3.3, -1.0), (3.0, -0.9), (2.7, -1.0), (2.4, -0.7), (2.2, -0.9), (2.5, -0.3)],
    [(2.3, 4.3), (2.6, 4.6), (2.9, 4.4), (3.2, 4.7), (3.0, 4.1), (2.7, 3.7), (3.0, 3.4),
     (3.3, 3.2), (3.0, 2.9), (2.7, 2.6), (3.0, 2.4), (3.3, 2.6), (3.1, 2.2), (2.8, 2.0),
     (2.5, 2.2), (2.2, 1.9), (1.9, 1.6), (1.6, 1.9), (1.9, 2.2), (2.2, 2.5), (2.5, 2.8),
     (2.2, 3.1), (2.5, 3.4), (2.8, 3.2)],
    [(3.0, 1.9), (3.3, 2.1), (3.5, 2.4), (3.2, 2.7), (2.9, 2.5), (2.6, 2.4), (2.4, 2.0),
     (2.7, 1.8), (3.0, 1.5)],
    [(2.0, 4.6), (2.3, 5.0), (2.6, 5.2), (2.9, 5.0), (3.2, 5.2), (3.4, 4.9), (3.1, 4.6),
     (2.8, 4.2), (2.5, 4.0), (2.2, 4.2)],
    [(1.0, -0.6), (0.7, -0.9), (0.4, -1.1), (0.1, -0.8), (-0.2, -0.6), (0.1, -0.3), (0.4, -0.6),
     (0.7, -0.5)],
]

plt.rcParams['font.family'] = 'DejaVu Serif'
plt.rcParams['mathtext.fontset'] = 'dejavuserif'
plt.rcParams['axes.unicode_minus'] = False

W, H = 1138, 757


def box(l, r, t, b):
    return [l / W, 1 - b / H, (r - l) / W, (b - t) / H]


def style(ax, xmaj, xmin_n, ymaj, ymin_n):
    ax.xaxis.set_major_locator(MultipleLocator(xmaj))
    ax.yaxis.set_major_locator(MultipleLocator(ymaj))
    ax.xaxis.set_minor_locator(AutoMinorLocator(xmin_n))
    ax.yaxis.set_minor_locator(AutoMinorLocator(ymin_n))
    ax.tick_params(which='both', direction='in', top=True, right=True, labelsize=13)
    ax.tick_params(which='major', length=6, width=1)
    ax.tick_params(which='minor', length=3, width=0.8)
    ax.tick_params(axis='y', pad=3)
    ax.tick_params(axis='x', pad=4)
    for s in ax.spines.values():
        s.set_linewidth(1.1)


def fmt1(v, pos):
    return '0' if abs(v) < 1e-9 else f'{v:.1f}'


def fmt0(v, pos):
    return f'{v:.0f}'


fig = plt.figure(figsize=(W / 100, H / 100), dpi=100)

ax_a = fig.add_axes(box(81, 404, 7, 330))
ax_c = fig.add_axes(box(446, 770, 7, 330))
ax_e = fig.add_axes(box(815, 1136, 7, 330))
ax_b = fig.add_axes(box(81, 404, 387, 708))
ax_d = fig.add_axes(box(441, 760, 387, 708))
ax_f = fig.add_axes(box(810, 1131, 387, 708))

# top row: MSD
ax_a.plot(t_a, msd_a, color='black', lw=1.2)
ax_a.set_xlim(0, 9.58)
ax_a.set_ylim(0, 3.7)
style(ax_a, 2, 4, 0.5, 5)
ax_a.yaxis.set_major_formatter(FuncFormatter(fmt1))
ax_a.set_ylabel('MSD (x 10$^3$) [Å$^2$]', fontsize=15, labelpad=3)
ax_a.set_xlabel('Time (x 10$^{-6}$)(s)', fontsize=14, labelpad=0)

ax_c.plot(t_c, msd_c, color='black', lw=1.2)
ax_c.set_xlim(0, 15.05)
ax_c.set_ylim(0, 0.545)
style(ax_c, 5, 8, 0.1, 7)
ax_c.yaxis.set_major_formatter(FuncFormatter(fmt1))
ax_c.set_xlabel('Time (x 10$^{-6}$)(s)', fontsize=14, labelpad=0)

ax_e.plot(t_e, msd_e, color='black', lw=1.2)
ax_e.set_xlim(0, 6.47)
ax_e.set_ylim(0, 1.252)
style(ax_e, 1, 5, 0.2, 4)
ax_e.yaxis.set_major_formatter(FuncFormatter(fmt1))
ax_e.set_xlabel('Time (x 10$^{-4}$)(s)', fontsize=14, labelpad=0)

# bottom row: trajectories
for ax, path, extras in ((ax_b, path_b, extras_b), (ax_d, path_d, extras_d),
                         (ax_f, path_f, extras_f)):
    for seg in [path] + extras:
        ax.plot([p[0] for p in seg], [p[1] for p in seg], color='black', lw=1.4)
    ax.xaxis.set_major_formatter(FuncFormatter(fmt0))
    ax.yaxis.set_major_formatter(FuncFormatter(fmt0))
    ax.set_xlabel('x-coordinate (x 10$^2$) [Å]', fontsize=14, labelpad=0)

ax_b.set_xlim(-8, 7.0)
ax_b.set_ylim(-25, 5)
style(ax_b, 2, 4, 5, 5)
ax_b.set_ylabel('y-coordinate (x 10$^2$) [Å]', fontsize=15, labelpad=3)

ax_d.set_xlim(-7, 0.37)
ax_d.set_ylim(-7.16, 1.44)
style(ax_d, 1, 4, 1, 4)

ax_f.set_xlim(-2.25, 6.7)
ax_f.set_ylim(-2, 11.52)
style(ax_f, 1, 5, 2, 4)

for ax, lab in ((ax_a, '(a)'), (ax_c, '(c)'), (ax_e, '(e)'),
                (ax_b, '(b)'), (ax_d, '(d)'), (ax_f, '(f)')):
    ax.text(0.035, 0.975, lab, transform=ax.transAxes, ha='left', va='top', fontsize=14)

fig.savefig('out.png', dpi=100)
